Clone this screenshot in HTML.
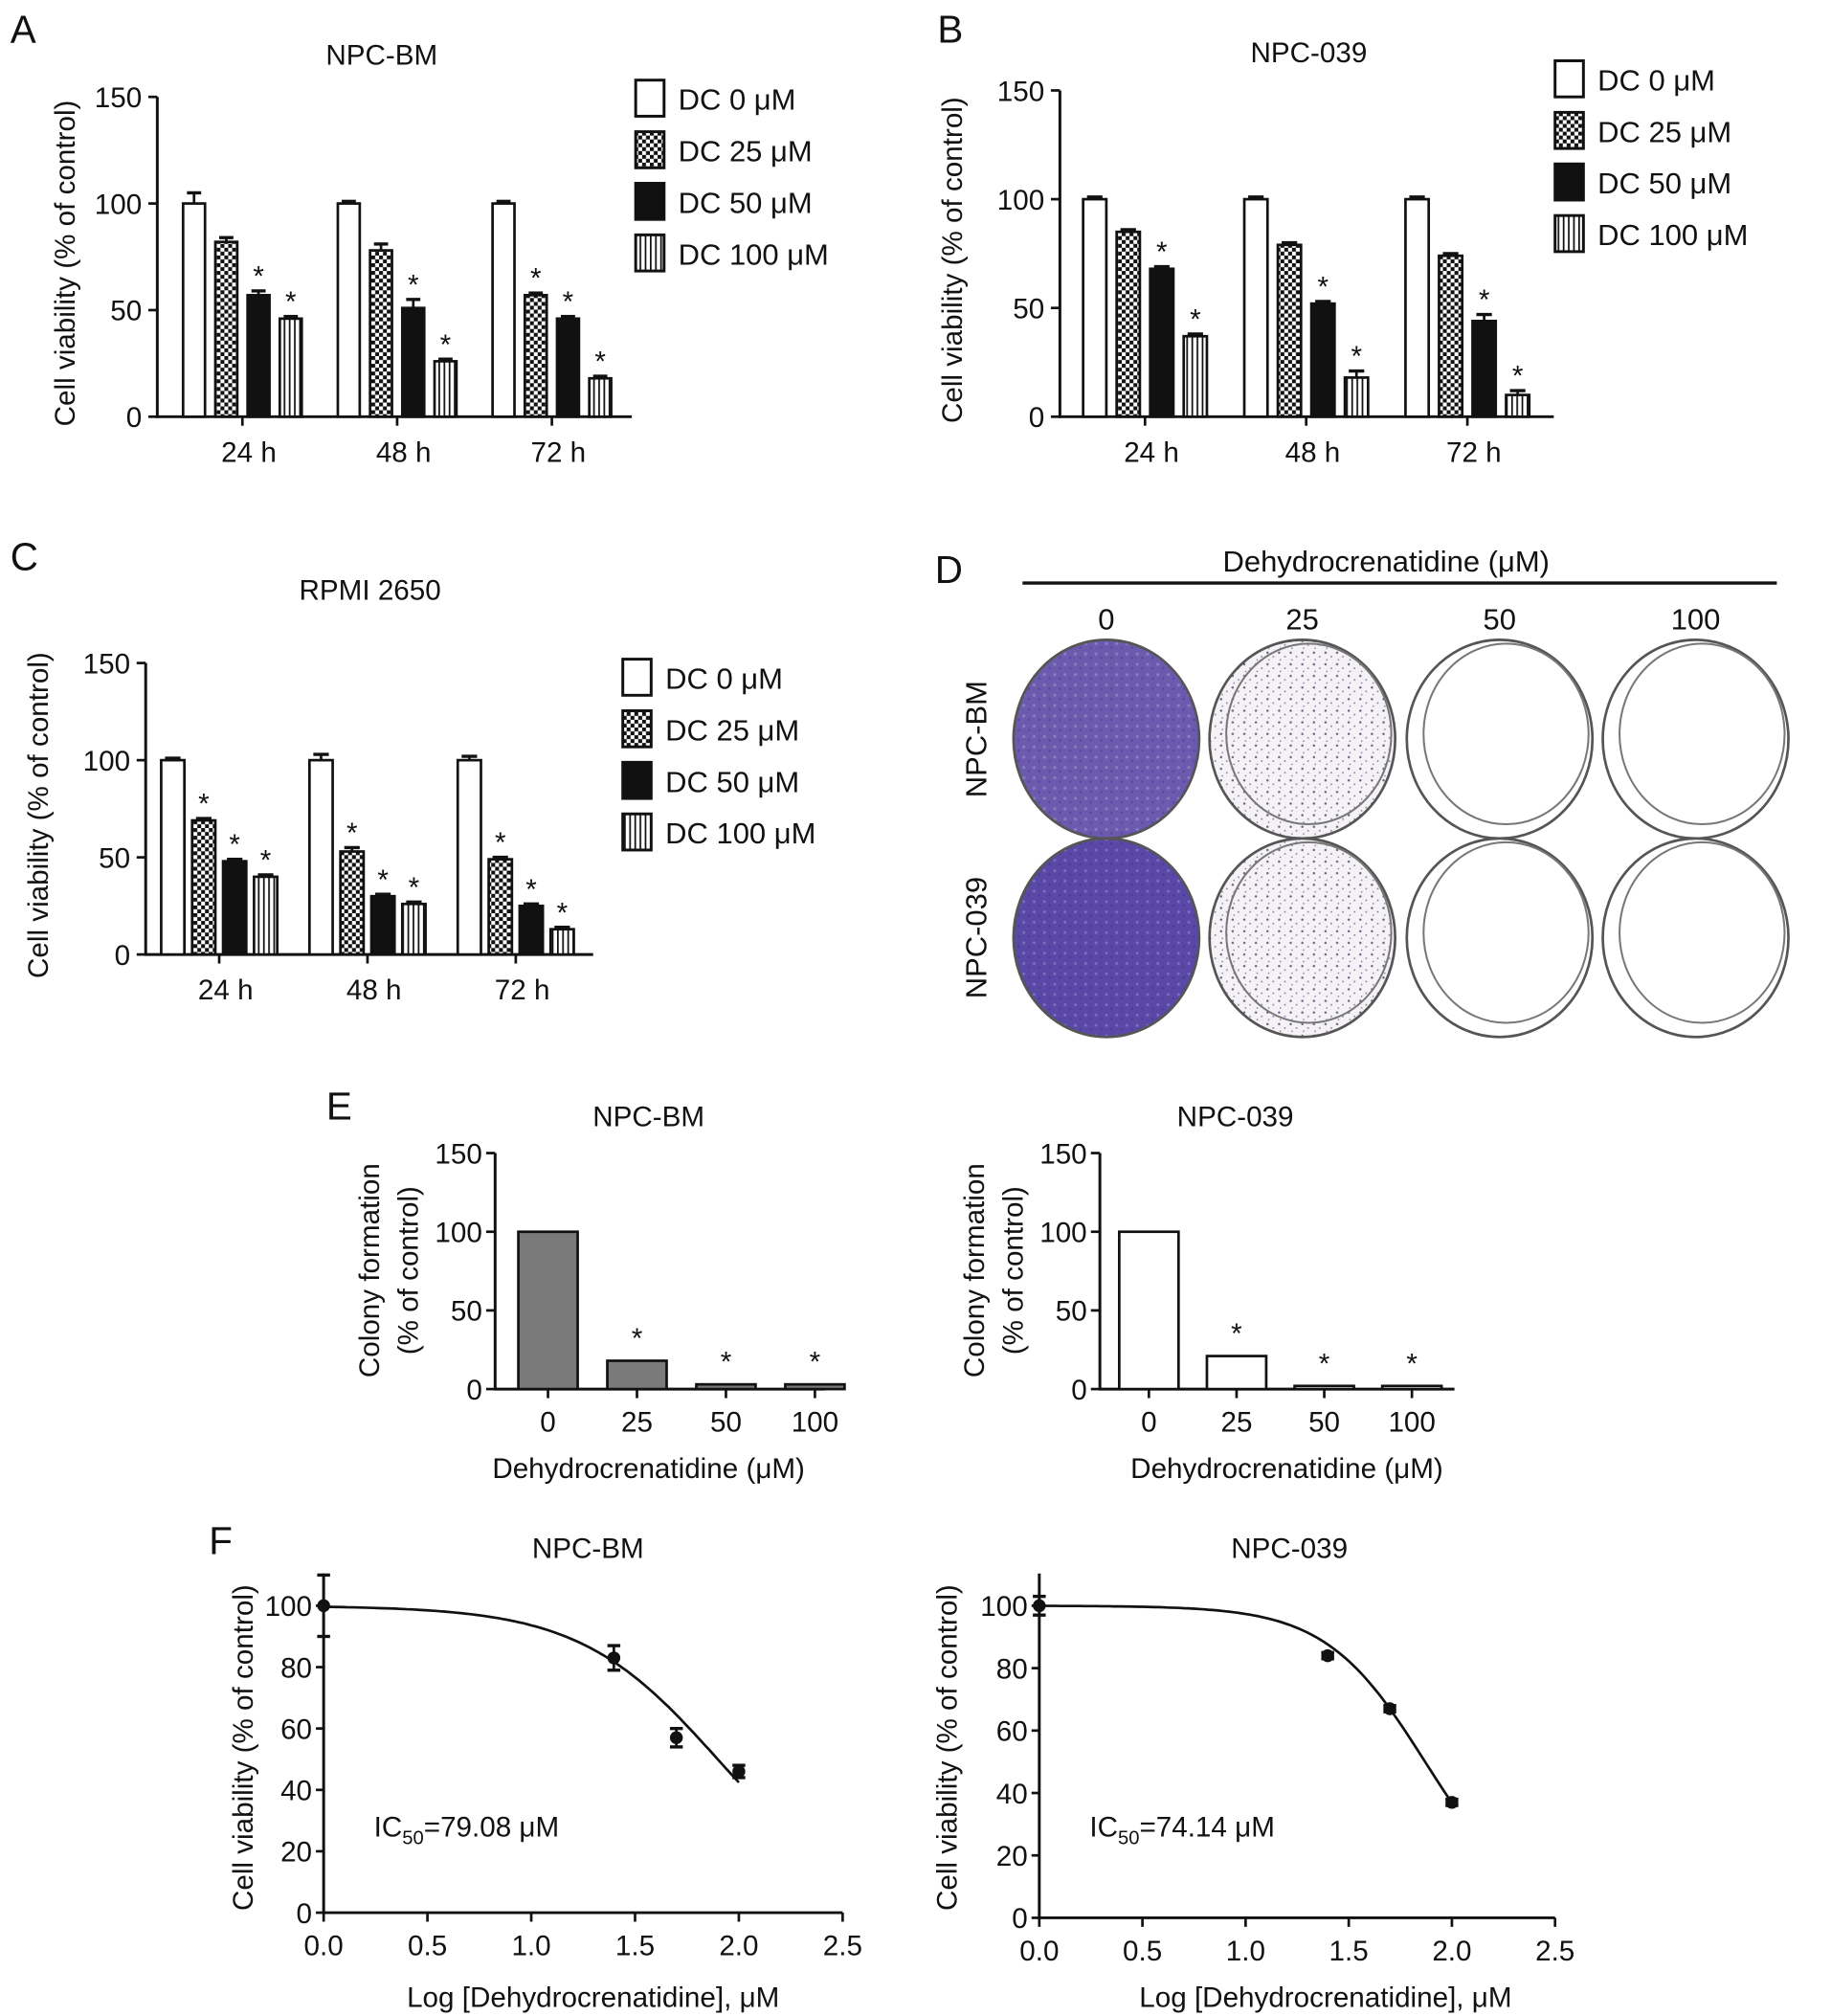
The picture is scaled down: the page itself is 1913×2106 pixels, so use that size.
<!DOCTYPE html>
<html><head><meta charset="utf-8"><style>
html,body{margin:0;padding:0;background:#fff;}
svg{display:block;font-family:"Liberation Sans",Arial,sans-serif;}
</style></head><body>
<svg id="fig" width="1913" height="2106" viewBox="0 0 1420 1563" xmlns="http://www.w3.org/2000/svg">
<defs>
<pattern id="checker" width="6" height="6" patternUnits="userSpaceOnUse"><rect width="6" height="6" fill="#fff"/><rect width="3" height="3" fill="#111"/><rect x="3" y="3" width="3" height="3" fill="#111"/></pattern>
<pattern id="vstripe" width="4" height="4" patternUnits="userSpaceOnUse"><rect width="4" height="4" fill="#fff"/><rect width="1.3" height="4" fill="#111"/></pattern>
<pattern id="speck" width="9" height="9" patternUnits="userSpaceOnUse"><rect width="9" height="9" fill="#f4f2f6"/><circle cx="2" cy="2" r="0.9" fill="#6a6080"/><circle cx="6.5" cy="5" r="0.7" fill="#8a80a0"/><circle cx="3" cy="7.5" r="0.6" fill="#7a7090"/></pattern>
<pattern id="purp" width="8" height="8" patternUnits="userSpaceOnUse"><rect width="8" height="8" fill="#6b5aad"/><circle cx="2" cy="3" r="1.2" fill="#8a7cc0"/><circle cx="6" cy="6" r="0.9" fill="#5546a0"/></pattern>
<pattern id="purp2" width="8" height="8" patternUnits="userSpaceOnUse"><rect width="8" height="8" fill="#5a48a6"/><circle cx="2" cy="3" r="1.1" fill="#7d6fbe"/><circle cx="6" cy="6" r="0.9" fill="#4a3a98"/></pattern>
</defs>
<g id="root"></g>
</svg>
<script>
// ---------- data ----------
const groups = ['24 h', '48 h', '72 h'];
const doseLabels = ['DC 0 μM', 'DC 25 μM', 'DC 50 μM', 'DC 100 μM'];
const barYTicks = [0, 50, 100, 150];
const aValues = [[100, 82, 57, 46], [100, 78, 51, 26], [100, 57, 46, 18]];
const aErrors = [[5, 2, 2, 1], [1, 3, 4, 1], [1, 1, 1, 1]];
const aStars = [[0, 0, 1, 1], [0, 0, 1, 1], [0, 1, 1, 1]];
const bValues = [[100, 85, 68, 37], [100, 79, 52, 18], [100, 74, 44, 10]];
const bErrors = [[1, 1, 1, 1], [1, 1, 1, 3], [1, 1, 3, 2]];
const bStars = [[0, 0, 1, 1], [0, 0, 1, 1], [0, 0, 1, 1]];
const cValues = [[100, 69, 48, 40], [100, 53, 30, 26], [100, 49, 25, 13]];
const cErrors = [[1, 1, 1, 1], [3, 2, 1, 1], [2, 1, 1, 1]];
const cStars = [[0, 1, 1, 1], [0, 1, 1, 1], [0, 1, 1, 1]];
const eDoses = ['0', '25', '50', '100'];
const eBmValues = [100, 18, 3, 3];
const e039Values = [100, 21, 2, 2];
const eStars = [0, 1, 1, 1];
const fXTicks = [0, 0.5, 1, 1.5, 2, 2.5];
const fXTickLabels = ['0.0', '0.5', '1.0', '1.5', '2.0', '2.5'];
const fYTicks = [0, 20, 40, 60, 80, 100];
const fLogDose = [0, 1.398, 1.699, 2];
const fBmValues = [100, 83, 57, 46];
const fBmErrors = [10, 4, 3, 2];
const f039Values = [100, 84, 67, 37];
const f039Errors = [3, 1, 1, 1];
const fBmLogIC50 = 1.898, fBmHill = 1.3;
const f039LogIC50 = 1.870, f039Hill = 1.8;

// ---------- helpers ----------
const NS = 'http://www.w3.org/2000/svg';
const root = document.getElementById('root');
function mk(tag, attrs, parent) {
  const e = document.createElementNS(NS, tag);
  for (const k in attrs) e.setAttribute(k, attrs[k]);
  (parent || root).appendChild(e);
  return e;
}
function txt(s, x, y, size, anchor, parent, rot) {
  const t = mk('text', {x: x, y: y, 'font-size': size, 'text-anchor': anchor || 'middle', fill: '#111'}, parent);
  if (rot) t.setAttribute('transform', 'rotate(' + rot + ' ' + x + ' ' + y + ')');
  t.textContent = s;
  return t;
}
function line(x1, y1, x2, y2, w, parent) {
  return mk('line', {x1: x1, y1: y1, x2: x2, y2: y2, stroke: '#111', 'stroke-width': w || 2}, parent);
}
const fills = ['#fff', 'url(#checker)', '#111', 'url(#vstripe)'];

function groupedChart(name, cfg, values, errors, stars) {
  const g = mk('g', {});
  
  
  const yScale = v => cfg.yBot - (v / 150) * (cfg.yBot - cfg.yTop);
  const yAx = line(cfg.x0, cfg.yTop, cfg.x0, cfg.yBot + 1, 2.2, g);
  
  
  const xAx = line(cfg.x0 - 1, cfg.yBot, cfg.x1, cfg.yBot, 2.2, g);
  
  
  barYTicks.forEach(v => {
    const y = yScale(v);
    line(cfg.x0 - 7, y, cfg.x0, y, 2, g);
    const t = txt(String(v), cfg.x0 - 12, y + 8, 22, 'end', g);
    
    
  });
  groups.forEach((grp, gi) => {
    const cx = cfg.c0 + gi * cfg.step;
    line(cx, cfg.yBot, cx, cfg.yBot + 7, 2, g);
    const t = txt(grp, cx + 5, cfg.yBot + 35, 22, 'middle', g);
    
    
    values[gi].forEach((v, i) => {
      const bx = cx + (i - 1.5) * cfg.barStep - cfg.barW / 2;
      const y = yScale(v);
      const r = mk('rect', {x: bx, y: y, width: cfg.barW, height: cfg.yBot - y, fill: fills[i], stroke: '#111', 'stroke-width': 2}, g);
      
      
      const ey = yScale(v + errors[gi][i]);
      line(bx + cfg.barW / 2, y, bx + cfg.barW / 2, ey, 2, g);
      line(bx + 3, ey, bx + cfg.barW - 3, ey, 2.5, g);
      if (stars[gi][i]) {
        const s = txt('*', bx + cfg.barW / 2, ey - 4, 22, 'middle', g);
        
        
      }
    });
  });
  const yt = txt('Cell viability (% of control)', cfg.titleX, (cfg.yTop + cfg.yBot) / 2 + 5, 22, 'middle', g, -90);
  
  
  const tt = txt(cfg.title, cfg.tx, cfg.ty, 22, 'middle', g);
  
  
  doseLabels.forEach((lab, i) => {
    const ly = cfg.ly + i * 40;
    const box = mk('rect', {x: cfg.lx, y: ly, width: 22, height: 28, fill: fills[i], stroke: '#111', 'stroke-width': 2.2}, g);
    
    
    const lt = txt(lab, cfg.lx + 33, ly + 23, 23, 'start', g);
    
    
  });
}

groupedChart('chart-a-npc-bm', {x0: 122, x1: 490, yTop: 75, yBot: 323, c0: 188, step: 120, barStep: 25, barW: 17, titleX: 58, title: 'NPC-BM', tx: 296, ty: 50, lx: 493, ly: 62}, aValues, aErrors, aStars);
groupedChart('chart-b-npc-039', {x0: 822, x1: 1205, yTop: 70, yBot: 323, c0: 888, step: 125, barStep: 26, barW: 18, titleX: 746, title: 'NPC-039', tx: 1015, ty: 48, lx: 1206, ly: 47}, bValues, bErrors, bStars);
groupedChart('chart-c-rpmi-2650', {x0: 113, x1: 460, yTop: 514, yBot: 740, c0: 170, step: 115, barStep: 24, barW: 18, titleX: 37, title: 'RPMI 2650', tx: 287, ty: 465, lx: 483, ly: 511}, cValues, cErrors, cStars);

// panel letters
[['A', 8, 33], ['B', 727, 33], ['C', 8, 442], ['D', 725, 452], ['E', 253, 868], ['F', 162, 1205]].forEach(p => {
  const t = txt(p[0], p[1], p[2], 30, 'start');
  
  
});

// ---------- panel D (dishes) ----------
(function () {
  const g = mk('g', {});
  
  
  const t = txt('Dehydrocrenatidine (μM)', 1075, 443, 23, 'middle', g);
  
  
  line(793, 452, 1378, 452, 2.5, g);
  const cols = [858, 1010, 1163, 1315];
  ['0', '25', '50', '100'].forEach((s, i) => {
    const l = txt(s, cols[i], 488, 23, 'middle', g);
    
    
  });
  const rows = [573, 727];
  ['NPC-BM', 'NPC-039'].forEach((s, r) => {
    const l = txt(s, 765, rows[r], 23, 'middle', g, -90);
    
    
  });
  rows.forEach((cy, r) => {
    cols.forEach((cx, c) => {
      const fill = c === 0 ? (r === 0 ? 'url(#purp)' : 'url(#purp2)') : c === 1 ? 'url(#speck)' : '#fff';
      const e = mk('ellipse', {cx: cx, cy: cy, rx: 72, ry: 77, fill: fill, stroke: '#555', 'stroke-width': 2}, g);
      
      
      if (c > 0) mk('ellipse', {cx: cx + 5, cy: cy - 4, rx: 64, ry: 70, fill: 'none', stroke: '#777', 'stroke-width': 1.5}, g);
    });
  });
})();

// ---------- panel E ----------
function colonyChart(name, cfg, values) {
  const g = mk('g', {});
  
  
  const yScale = v => cfg.yBot - (v / 150) * (cfg.yBot - cfg.yTop);
  line(cfg.x0, cfg.yTop, cfg.x0, cfg.yBot + 1, 2.2, g);
  line(cfg.x0 - 1, cfg.yBot, cfg.x1, cfg.yBot, 2.2, g);
  barYTicks.forEach(v => {
    const y = yScale(v);
    line(cfg.x0 - 7, y, cfg.x0, y, 2, g);
    const t = txt(String(v), cfg.x0 - 10, y + 8, 22, 'end', g);
    
    
  });
  eDoses.forEach((d, i) => {
    const cx = cfg.c0 + i * cfg.step;
    line(cx, cfg.yBot, cx, cfg.yBot + 7, 2, g);
    const t = txt(d, cx, cfg.yBot + 33, 22, 'middle', g);
    
    
    const y = yScale(values[i]);
    const r = mk('rect', {x: cx - 23, y: y, width: 46, height: cfg.yBot - y, fill: cfg.fill, stroke: '#111', 'stroke-width': 2}, g);
    
    
    if (eStars[i]) {
      const s = txt('*', cx, y - 10, 22, 'middle', g);
      
      
    }
  });
  const tt = txt(cfg.title, cfg.tx, 873, 22, 'middle', g);
  
  
  const xt = txt('Dehydrocrenatidine (μM)', cfg.xtx, 1146, 22, 'middle', g);
  
  
  const y1 = txt('Colony formation', cfg.ytx, 985, 22, 'middle', g, -90);
  
  
  const y2 = txt('(% of control)', cfg.ytx + 30, 985, 22, 'middle', g, -90);
  
  
}
colonyChart('chart-e-npc-bm', {x0: 384, x1: 640, yTop: 894, yBot: 1077, c0: 425, step: 69, fill: '#7a7a7a', title: 'NPC-BM', tx: 503, xtx: 503, ytx: 294}, eBmValues);
colonyChart('chart-e-npc-039', {x0: 853, x1: 1128, yTop: 894, yBot: 1077, c0: 891, step: 68, fill: '#fff', title: 'NPC-039', tx: 958, xtx: 998, ytx: 763}, e039Values);

// ---------- panel F ----------
function doseChart(name, cfg, values, errors, logIC50, hill) {
  const g = mk('g', {});
  
  
  const xS = v => cfg.x0 + v * cfg.unit;
  const yS = v => cfg.yBot - (v / 100) * (cfg.yBot - cfg.y100);
  line(cfg.x0, cfg.yTop, cfg.x0, cfg.yBot + 1, 2.2, g);
  line(cfg.x0 - 1, cfg.yBot, xS(2.5), cfg.yBot, 2.2, g);
  fYTicks.forEach(v => {
    const y = yS(v);
    line(cfg.x0 - 6, y, cfg.x0, y, 2, g);
    const t = txt(String(v), cfg.x0 - 9, y + 8, 22, 'end', g);
    
    
  });
  fXTicks.forEach((v, i) => {
    const x = xS(v);
    line(x, cfg.yBot, x, cfg.yBot + 7, 2, g);
    const t = txt(fXTickLabels[i], x, cfg.yBot + 33, 22, 'middle', g);
    
    
  });
  let d = '';
  for (let k = 0; k <= 100; k++) {
    const x = 2 * k / 100;
    const y = 100 / (1 + Math.pow(10, (x - logIC50) * hill));
    d += (k ? 'L' : 'M') + xS(x).toFixed(1) + ' ' + yS(y).toFixed(1);
  }
  const c = mk('path', {d: d, fill: 'none', stroke: '#111', 'stroke-width': 2}, g);
  
  
  fLogDose.forEach((xv, i) => {
    const x = xS(xv), y = yS(values[i]);
    const e1 = yS(values[i] + errors[i]), e2 = yS(values[i] - errors[i]);
    line(x, e1, x, e2, 2, g);
    line(x - 5, e1, x + 5, e1, 2.5, g);
    line(x - 5, e2, x + 5, e2, 2.5, g);
    const p = mk('circle', {cx: x, cy: y, r: 5, fill: '#111'}, g);
    
    
  });
  const tt = txt(cfg.title, cfg.tx, 1208, 22, 'middle', g);
  
  
  const ic = mk('text', {x: cfg.icx, y: 1424, 'font-size': 22, fill: '#111'}, g);
  
  
  ic.innerHTML = 'IC<tspan font-size="15" dy="6">50</tspan><tspan dy="-6">=' + cfg.ic + ' μM</tspan>';
  const xt = txt('Log [Dehydrocrenatidine], μM', cfg.xtx, 1556, 22, 'middle', g);
  
  
  const yt = txt('Cell viability (% of control)', cfg.ytx, 1355, 22, 'middle', g, -90);
  
  
}
doseChart('chart-f-npc-bm', {x0: 251, unit: 161, yTop: 1220, y100: 1245, yBot: 1483, title: 'NPC-BM', tx: 456, icx: 290, ic: '79.08', xtx: 460, ytx: 196}, fBmValues, fBmErrors, fBmLogIC50, fBmHill);
doseChart('chart-f-npc-039', {x0: 806, unit: 160, yTop: 1220, y100: 1245, yBot: 1487, title: 'NPC-039', tx: 1000, icx: 845, ic: '74.14', xtx: 1028, ytx: 742}, f039Values, f039Errors, f039LogIC50, f039Hill);
</script>
</body></html>
